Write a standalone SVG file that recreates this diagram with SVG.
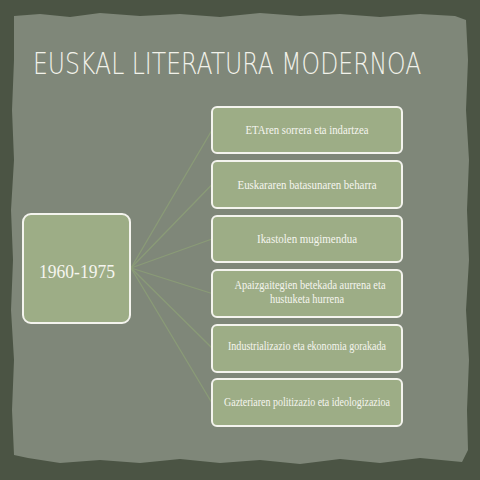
<svg xmlns="http://www.w3.org/2000/svg" width="480" height="480" viewBox="0 0 480 480">
<style>
.box{fill:#9dad86;stroke:#f4f4ee;stroke-width:2}
.lbl{font-family:"Liberation Serif",serif;font-size:13.5px;fill:#f5f5ef;text-anchor:middle}
.con{stroke:#8a9b77;stroke-width:1.3;fill:none}
</style>
<rect x="0" y="0" width="480" height="480" fill="#4b5444"/>
<path d="M14 16 L40 14 L70 17 L100 13 L140 16 L180 14 L220 17 L260 13 L300 16 L340 14 L380 17 L420 14 L455 16 L466 20 L468 60 L466 110 L469 160 L467 210 L469 260 L466 310 L469 360 L467 410 L468 450 L462 462 L420 458 L380 463 L340 459 L300 464 L260 460 L220 463 L180 459 L140 463 L100 460 L60 463 L28 458 L14 455 L12 410 L14 360 L11 310 L13 260 L11 210 L14 160 L12 110 L14 60 Z" fill="#7f8779"/>
<text transform="translate(33 74) scale(0.785 1)" x="0" y="0" font-family="'DejaVu Sans',sans-serif" font-weight="200" font-size="30" fill="#f2f2ea">EUSKAL LITERATURA MODERNOA</text>
<g id="connectors">
<line class="con" x1="131" y1="268" x2="212" y2="130"/>
<line class="con" x1="131" y1="268" x2="212" y2="184.5"/>
<line class="con" x1="131" y1="268" x2="212" y2="239"/>
<line class="con" x1="131" y1="268" x2="212" y2="293.5"/>
<line class="con" x1="131" y1="268" x2="212" y2="348"/>
<line class="con" x1="131" y1="268" x2="212" y2="403"/>
</g>
<g id="center">
<rect class="box" x="23" y="214" width="107" height="109" rx="8"/>
<text x="77" y="278" font-family="Liberation Serif,serif" font-size="19" fill="#f5f5ef" text-anchor="middle" textLength="76" lengthAdjust="spacingAndGlyphs">1960-1975</text>
</g>
<g id="n1">
<rect class="box" x="212" y="107" width="190" height="46" rx="5"/>
<text class="lbl" x="307" y="134" textLength="123" lengthAdjust="spacingAndGlyphs">ETAren sorrera eta indartzea</text>
</g>
<g id="n2">
<rect class="box" x="212" y="161" width="190" height="47" rx="5"/>
<text class="lbl" x="307" y="189" textLength="139" lengthAdjust="spacingAndGlyphs">Euskararen batasunaren beharra</text>
</g>
<g id="n3">
<rect class="box" x="212" y="216" width="190" height="46" rx="5"/>
<text class="lbl" x="307" y="243" textLength="100" lengthAdjust="spacingAndGlyphs">Ikastolen mugimendua</text>
</g>
<g id="n4">
<rect class="box" x="212" y="270" width="190" height="47" rx="5"/>
<text class="lbl" x="310" y="289" font-size="12" textLength="151" lengthAdjust="spacingAndGlyphs">Apaizgaitegien betekada aurrena eta</text>
<text class="lbl" x="307" y="303" font-size="12" textLength="74" lengthAdjust="spacingAndGlyphs">hustuketa hurrena</text>
</g>
<g id="n5">
<rect class="box" x="212" y="325" width="190" height="47" rx="5"/>
<text class="lbl" x="307" y="350" textLength="158" lengthAdjust="spacingAndGlyphs">Industrializazio eta ekonomia gorakada</text>
</g>
<g id="n6">
<rect class="box" x="212" y="379" width="190" height="47" rx="5"/>
<text class="lbl" x="307" y="406" textLength="166" lengthAdjust="spacingAndGlyphs">Gazteriaren politizazio eta ideologizazioa</text>
</g>
</svg>
